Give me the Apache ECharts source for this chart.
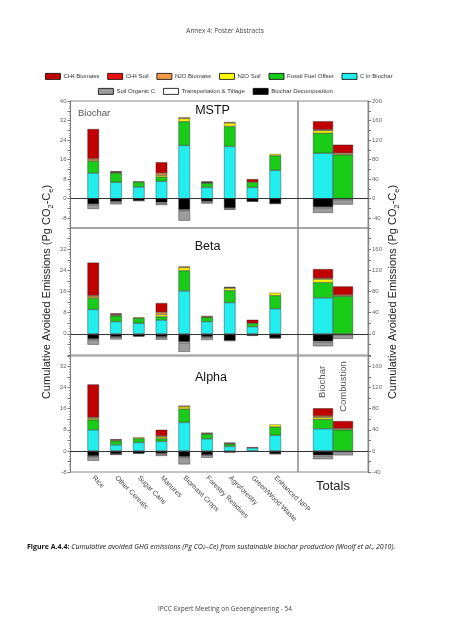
<!DOCTYPE html>
<html><head><meta charset="utf-8">
<script src="https://cdn.jsdelivr.net/npm/echarts@6/dist/echarts.min.js"></script>
<style>html,body{margin:0;padding:0;background:#fff}#c{width:451px;height:640px}</style>
</head><body><div id="c"></div>
<script>
// ---------- categories & labels ----------
const categories = ['Rice','Other Cereals','Sugar Cane','Manures','Biomass Crops','Forestry Residues','Agroforestry','Green/Wood Waste','Enhanced NPP'];
const panelNames = ['MSTP','Beta','Alpha'];
const legendRow1 = ['CH4 Biomass','CH4 Soil','N2O Biomass','N2O Soil','Fossil Fuel Offset','C in Biochar'];
const legendRow2 = ['Soil Organic C','Transportation & Tillage','Biochar Decomposition'];
const leftLabelsMSTP = [40,32,24,16,8,0,-8];
const leftLabelsBeta = [32,24,16,8,0];
const leftLabelsAlpha = [32,24,16,8,0,-8];
const rightLabelsMSTP = [200,160,120,80,40,0,-40];
const rightLabelsBeta = [160,120,80,40,0];
const rightLabelsAlpha = [160,120,80,40,0,-40];

// ---------- MSTP (Pg CO2-Ce) ----------
const mstpCBiochar   = [10.5, 6.7, 4.8, 7.1, 21.8, 4.6, 21.4, 4.6, 11.6];
const mstpFossil     = [4.8, 3.8, 2.0, 1.8, 9.8, 1.8, 8.2, 2.2, 6.0];
const mstpN2OSoil    = [0.5, 0.3, 0.3, 0.7, 1.2, 0.2, 1.4, 0, 0.7];
const mstpN2OBiomass = [0.6, 0.2, 0, 0.9, 0.5, 0.2, 0.4, 0, 0];
const mstpCH4Soil    = [0, 0, 0, 0, 0, 0, 0, 0, 0];
const mstpCH4Biomass = [12.1, 0.2, 0, 4.4, 0, 0.2, 0, 1.2, 0];
const mstpDecomp     = [-2.2, -1.1, -0.8, -1.5, -4.5, -1.0, -3.8, -1.1, -2.0];
const mstpTransport  = [-0.4, -0.3, -0.1, -0.4, -0.4, -0.3, -0.4, -0.1, -0.1];
const mstpSoilC      = [-1.6, -0.9, 0, -0.7, -4.1, -0.7, -0.3, 0, 0];
// totals: [C in Biochar, Fossil, N2O Soil, N2O Biomass, CH4 Soil, CH4 Biomass, Decomp, Transport, Soil C]
const mstpTotalBiochar    = [93, 41, 5.4, 2, 0, 17, -17, -2, -10];
const mstpTotalCombustion = [0, 90, 0, 3.4, 0, 17, 0, -2, -10];

// ---------- Beta ----------
const betaCBiochar   = [9.2, 4.6, 4.0, 5.2, 16.2, 4.6, 11.8, 2.7, 9.5];
const betaFossil     = [4.2, 2.2, 1.9, 1.3, 7.7, 1.6, 4.6, 1.3, 5.0];
const betaN2OSoil    = [0.5, 0.3, 0.3, 0.8, 1.1, 0.2, 0.9, 0, 1.0];
const betaN2OBiomass = [0.6, 0.3, 0, 0.9, 0.5, 0.4, 0.2, 0, 0];
const betaCH4Soil    = [0, 0, 0, 0, 0, 0, 0, 0, 0];
const betaCH4Biomass = [12.4, 0.3, 0, 3.4, 0, 0, 0.2, 1.3, 0];
const betaDecomp     = [-1.9, -1.1, -0.9, -1.1, -3.0, -1.1, -2.5, -0.6, -1.6];
const betaTransport  = [-0.3, -0.2, -0.1, -0.3, -0.5, -0.2, -0.2, -0.1, -0.1];
const betaSoilC      = [-1.9, -0.8, 0, -0.8, -3.3, -1.0, 0, 0, 0];
const betaTotalBiochar    = [68, 29, 6.3, 2, 0, 17, -14, -2, -7.5];
const betaTotalCombustion = [0, 71, 0, 2.5, 0, 16, 0, -2, -7.5];

// ---------- Alpha ----------
const alphaCBiochar   = [8.0, 2.3, 3.2, 3.6, 10.8, 4.6, 1.7, 1.1, 5.9];
const alphaFossil     = [3.8, 1.5, 1.5, 1.1, 5.1, 1.8, 0.9, 0, 3.2];
const alphaN2OSoil    = [0.5, 0.3, 0.4, 0.6, 0.8, 0.2, 0.3, 0, 0.9];
const alphaN2OBiomass = [0.5, 0, 0, 0.4, 0.5, 0.3, 0, 0, 0];
const alphaCH4Soil    = [0, 0, 0, 0, 0, 0, 0, 0, 0];
const alphaCH4Biomass = [12.4, 0.3, 0, 2.3, 0, 0, 0.2, 0.3, 0];
const alphaDecomp     = [-1.9, -1.1, -0.9, -1.0, -2.2, -1.5, -0.5, -0.3, -1.1];
const alphaTransport  = [-0.3, -0.1, -0.1, -0.3, -0.3, -0.2, -0.1, 0, -0.1];
const alphaSoilC      = [-1.5, -0.3, 0, -0.6, -2.6, -0.9, 0, 0, 0];
const alphaTotalBiochar    = [42, 18, 3.8, 2.5, 0, 14.5, -8, -2, -5.7];
const alphaTotalCombustion = [0, 40, 0, 2.5, 0, 14, 0, -2, -6.3];

// ---------- assembly ----------
const comps = [
  {name:'C in Biochar', color:'#22eeee'},
  {name:'Fossil Fuel Offset', color:'#18cc18'},
  {name:'N2O Soil', color:'#ffff00'},
  {name:'N2O Biomass', color:'#f29a48'},
  {name:'CH4 Soil', color:'#ee1111'},
  {name:'CH4 Biomass', color:'#c00000'},
  {name:'Biochar Decomposition', color:'#000000'},
  {name:'Transportation & Tillage', color:'#ffffff'},
  {name:'Soil Organic C', color:'#9c9c9c'}
];
const panels = [
  {cats:[mstpCBiochar,mstpFossil,mstpN2OSoil,mstpN2OBiomass,mstpCH4Soil,mstpCH4Biomass,mstpDecomp,mstpTransport,mstpSoilC],
   tb:mstpTotalBiochar, tc:mstpTotalCombustion, top:101, height:127, min:-12, max:40, rmin:-60, rmax:200,
   ll:leftLabelsMSTP, rl:rightLabelsMSTP},
  {cats:[betaCBiochar,betaFossil,betaN2OSoil,betaN2OBiomass,betaCH4Soil,betaCH4Biomass,betaDecomp,betaTransport,betaSoilC],
   tb:betaTotalBiochar, tc:betaTotalCombustion, top:228, height:127, min:-8, max:40, rmin:-40, rmax:200,
   ll:leftLabelsBeta, rl:rightLabelsBeta},
  {cats:[alphaCBiochar,alphaFossil,alphaN2OSoil,alphaN2OBiomass,alphaCH4Soil,alphaCH4Biomass,alphaDecomp,alphaTransport,alphaSoilC],
   tb:alphaTotalBiochar, tc:alphaTotalCombustion, top:356, height:116, min:-8, max:36, rmin:-40, rmax:180,
   ll:leftLabelsAlpha, rl:rightLabelsAlpha}
];
const nz = v => (v === 0 ? null : v);
const FONT = 'Liberation Sans';
const grid = [], xAxis = [], yAxis = [], series = [];
const axisCommon = {
  type:'value', splitLine:{show:false},
  axisLine:{show:true, lineStyle:{color:'#777', width:1}},
  axisTick:{show:true, length:3, lineStyle:{color:'#777'}},
  minorTick:{show:true, splitNumber:4, length:1.5, lineStyle:{color:'#999'}}
};
const zeroLine = {silent:true, symbol:['none','none'], label:{show:false}, animation:false,
  lineStyle:{color:'#333', width:1, type:'solid'}, emphasis:{disabled:true}, data:[{yAxis:0}]};

panels.forEach((p, i) => {
  const gC = 2*i, gT = 2*i+1;
  grid.push({left:70.5, width:227.5, top:p.top, height:p.height, show:true, borderColor:'#888', borderWidth:1});
  grid.push({left:298, width:70, top:p.top, height:p.height, show:true, borderColor:'#888', borderWidth:1});
  const last = i === 2;
  xAxis.push({type:'category', gridIndex:gC, data:[''].concat(categories, ['']), boundaryGap:false,
    axisLine:{show:false}, axisTick:{show:false},
    axisLabel: last ? {show:true, interval:0, rotate:-45, fontSize:7, color:'#444', margin:5, fontFamily:FONT} : {show:false}});
  xAxis.push({type:'category', gridIndex:gT, data:['Totals'], boundaryGap:true,
    axisLine:{show:false}, axisTick:{show:false},
    axisLabel: last ? {show:true, fontSize:13, color:'#222', margin:8, fontFamily:FONT} : {show:false}});
  yAxis.push(Object.assign({}, axisCommon, {gridIndex:gC, position:'left', min:p.min, max:p.max, interval:4,
    axisLabel:{fontSize:6, color:'#666', margin:4, fontFamily:FONT, formatter:v => p.ll.indexOf(v) >= 0 ? String(v) : ''}}));
  yAxis.push(Object.assign({}, axisCommon, {gridIndex:gT, position:'right', min:p.rmin, max:p.rmax, interval:20,
    axisLabel:{fontSize:6, color:'#666', margin:4, fontFamily:FONT, formatter:v => p.rl.indexOf(v) >= 0 ? String(v) : ''}}));
  comps.forEach((c, j) => {
    series.push({type:'bar', name:c.name, xAxisIndex:gC, yAxisIndex:gC, stack:'cat'+i, barWidth:11.5,
      itemStyle:{color:c.color, borderColor:'#222', borderWidth:0.4},
      data:[null].concat(p.cats[j].map(nz), [null]),
      markLine: j === 0 ? zeroLine : undefined});
  });
  comps.forEach((c, j) => {
    series.push({type:'bar', name:c.name, xAxisIndex:gT, yAxisIndex:gT, stack:'tb'+i, barWidth:20, barGap:0,
      itemStyle:{color:c.color, borderColor:'#222', borderWidth:0.4},
      data:[nz(p.tb[j])], markLine: j === 0 ? zeroLine : undefined});
  });
  comps.forEach((c, j) => {
    series.push({type:'bar', name:c.name, xAxisIndex:gT, yAxisIndex:gT, stack:'tc'+i, barWidth:20, barGap:0,
      itemStyle:{color:c.color, borderColor:'#222', borderWidth:0.4},
      data:[nz(p.tc[j])]});
  });
});

const legendFmt = n => n.replace(/(CH|N)(\d)/, '$1{s|$2}');
const legendCommon = {orient:'horizontal', itemWidth:15, itemHeight:6, itemGap:8, icon:'rect',
  itemStyle:{borderColor:'#000', borderWidth:0.8}, selectedMode:false, formatter:legendFmt,
  textStyle:{fontSize:6, color:'#333', fontFamily:FONT, padding:[0,0,0,-2],
    rich:{s:{fontSize:4.5, color:'#333', verticalAlign:'bottom', fontFamily:FONT}}}};

const sub = {fontSize:7.5, fill:'#222', verticalAlign:'bottom', fontFamily:FONT};
const titleText = 'Cumulative Avoided Emissions (Pg CO{s|2}-C{s|e})';
const graphic = [
  {type:'text', x:225, y:31, style:{text:'Annex 4: Poster Abstracts', fontSize:6.5, fontFamily:'Open Sans', fill:'#444', align:'center', verticalAlign:'middle'}},
  {type:'text', x:225, y:609, style:{text:'IPCC Expert Meeting on Geoengineering - 54', fontSize:6.5, fontFamily:'Open Sans', fill:'#444', align:'center', verticalAlign:'middle'}},
  {type:'text', x:27, y:547, style:{text:'{b|Figure A.4.4:} {i|Cumulative avoided GHG emissions (Pg CO}{is|2}{i|–Ce) from sustainable biochar production (Woolf et al., 2010).}',
    align:'left', verticalAlign:'middle', fontSize:7, fontFamily:'Open Sans', fill:'#111',
    rich:{b:{fontWeight:'bold', fontSize:7, fontFamily:'Open Sans', fill:'#111'},
          i:{fontStyle:'italic', fontSize:7, fontFamily:'Open Sans', fill:'#111'},
          is:{fontStyle:'italic', fontSize:5, fontFamily:'Open Sans', fill:'#111', verticalAlign:'bottom'}}}},
  {type:'text', x:47, y:292, rotation:Math.PI/2, style:{text:titleText, fontSize:11, lineHeight:15, fontFamily:FONT, fill:'#222', align:'center', verticalAlign:'middle', rich:{s:sub}}},
  {type:'text', x:393, y:292, rotation:Math.PI/2, style:{text:titleText, fontSize:11, lineHeight:15, fontFamily:FONT, fill:'#222', align:'center', verticalAlign:'middle', rich:{s:sub}}},
  {type:'text', x:78, y:113, style:{text:'Biochar', fontSize:9.5, fontFamily:FONT, fill:'#555', align:'left', verticalAlign:'middle'}},
  {type:'text', x:212.5, y:111, style:{text:panelNames[0], fontSize:12.5, fontFamily:FONT, fill:'#111', align:'center', verticalAlign:'middle'}},
  {type:'text', x:207.5, y:247, style:{text:panelNames[1], fontSize:12.5, fontFamily:FONT, fill:'#111', align:'center', verticalAlign:'middle'}},
  {type:'text', x:211, y:378, style:{text:panelNames[2], fontSize:12.5, fontFamily:FONT, fill:'#111', align:'center', verticalAlign:'middle'}},
  {type:'text', x:322.5, y:382, rotation:Math.PI/2, style:{text:'Biochar', fontSize:9.5, fontFamily:FONT, fill:'#555', align:'center', verticalAlign:'middle'}},
  {type:'text', x:343.5, y:386.5, rotation:Math.PI/2, style:{text:'Combustion', fontSize:9.5, fontFamily:FONT, fill:'#555', align:'center', verticalAlign:'middle'}}
];

const chart = echarts.init(document.getElementById('c'), null, {renderer:'canvas'});
chart.setOption({
  animation:false,
  backgroundColor:'#fff',
  textStyle:{fontFamily:FONT},
  legend:[
    Object.assign({}, legendCommon, {left:40, top:68, data:legendRow1}),
    Object.assign({}, legendCommon, {left:93, top:83, data:legendRow2})
  ],
  grid, xAxis, yAxis, series, graphic
});
</script></body></html>
